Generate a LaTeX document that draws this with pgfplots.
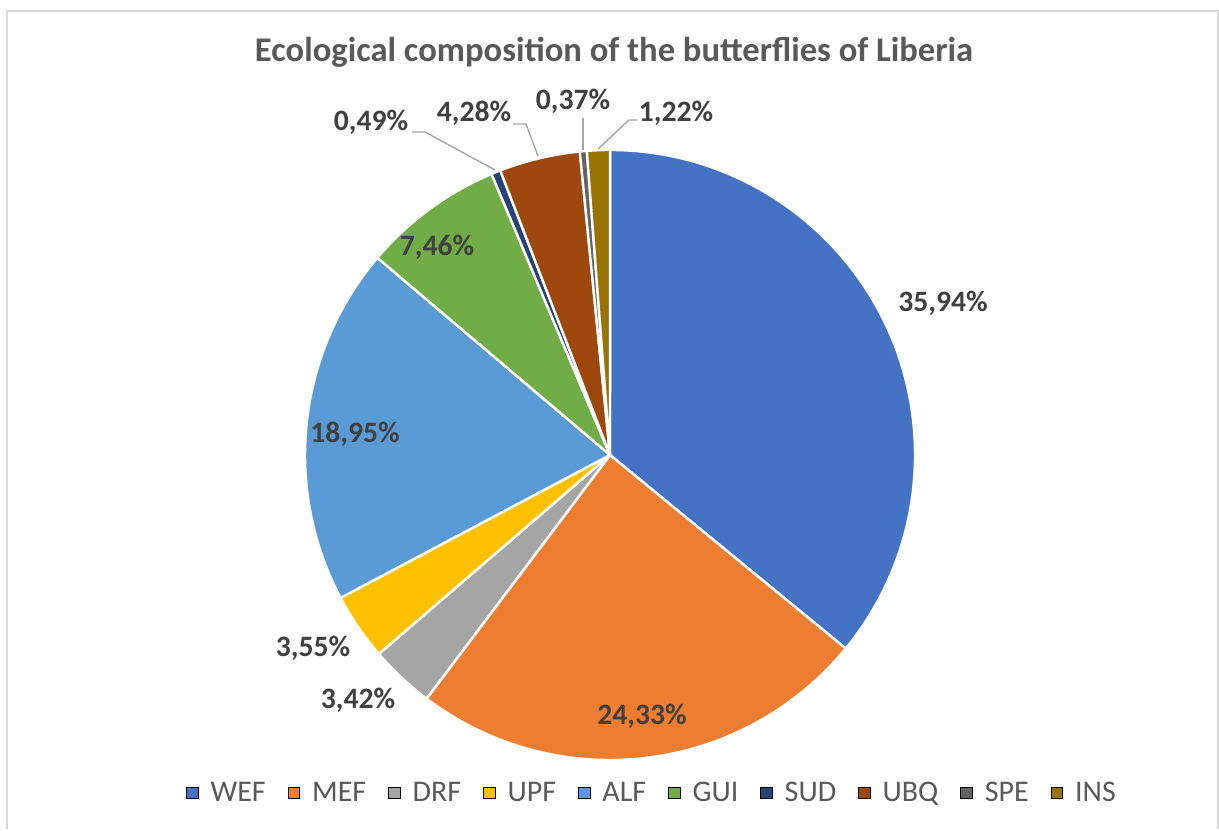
\documentclass[border=0pt]{standalone}
\usepackage{fontspec}
\setmainfont{Carlito}
\usepackage{pgfplots}
\usepackage{pgfplotstable}
\pgfplotsset{compat=1.18}

\definecolor{cWEF}{HTML}{4472C4}
\definecolor{cMEF}{HTML}{ED7D31}
\definecolor{cDRF}{HTML}{A5A5A5}
\definecolor{cUPF}{HTML}{FFC000}
\definecolor{cALF}{HTML}{5B9BD5}
\definecolor{cGUI}{HTML}{70AD47}
\definecolor{cSUD}{HTML}{264478}
\definecolor{cUBQ}{HTML}{9E480E}
\definecolor{cSPE}{HTML}{636363}
\definecolor{cINS}{HTML}{997300}
\definecolor{lblgray}{HTML}{404040}
\definecolor{txtgray}{HTML}{595959}
\definecolor{leadgray}{HTML}{A6A6A6}
\definecolor{framegray}{HTML}{D9D9D9}

% share (%), colour, label position (px from left / top)
\pgfplotstableread{
name value col lx ly
WEF 35.94 cWEF 943 303
MEF 24.33 cMEF 642 716
DRF 3.42 cDRF 358 700
UPF 3.55 cUPF 313 648
ALF 18.95 cALF 355 434
GUI 7.46 cGUI 437 247
SUD 0.49 cSUD 371 122
UBQ 4.28 cUBQ 474 113
SPE 0.37 cSPE 573 101
INS 1.22 cINS 676 113
}\piedata

% start/end angles, clockwise from 12 o'clock
\def\pieCum{0}
\pgfplotsforeachungrouped \i in {0,...,9}{%
  \pgfplotstablegetelem{\i}{value}\of\piedata \let\pieV\pgfplotsretval
  \pgfmathsetmacro\pieA{90-3.6*\pieCum}%
  \pgfmathsetmacro\pieCum{\pieCum+\pieV}%
  \pgfmathsetmacro\pieB{90-3.6*\pieCum}%
  \expandafter\xdef\csname sa\i\endcsname{\pieA}%
  \expandafter\xdef\csname sb\i\endcsname{\pieB}%
  \expandafter\xdef\csname sv\i\endcsname{\pieV}%
  \pgfplotstablegetelem{\i}{col}\of\piedata
  \expandafter\xdef\csname sc\i\endcsname{\pgfplotsretval}%
  \pgfplotstablegetelem{\i}{name}\of\piedata
  \expandafter\xdef\csname sn\i\endcsname{\pgfplotsretval}%
  \pgfplotstablegetelem{\i}{lx}\of\piedata
  \expandafter\xdef\csname lx\i\endcsname{\pgfplotsretval}%
  \pgfplotstablegetelem{\i}{ly}\of\piedata
  \pgfmathsetmacro\pieY{829-\pgfplotsretval}%
  \expandafter\xdef\csname ly\i\endcsname{\pieY}%
}

\begin{document}
\begin{tikzpicture}[
  lbl/.style={font=\bfseries\fontsize{14.8}{17}\selectfont, text=lblgray, inner sep=0pt, anchor=center},
  lead/.style={draw=leadgray, line width=0.7pt}]
\begin{axis}[
    hide axis, scale only axis, clip=false,
    width=609.5pt, height=414.5pt,
    xmin=0, xmax=1219, ymin=0, ymax=829,
    legend columns=10,
    legend image code/.code={\fill[#1] (0pt,-2.9pt) rectangle (5.8pt,2.9pt);},
    legend style={at={(axis cs:651,36)}, anchor=center, draw=none, fill=none,
      font=\fontsize{15}{18}\selectfont, text=txtgray,
      nodes={inner sep=0pt},
      /tikz/every odd column/.append style={column sep=6pt},
      /tikz/every even column/.append style={column sep=11pt}}]
  \path (axis cs:0,0) rectangle (axis cs:1219,829);
  \draw[framegray, line width=1pt] (axis cs:7,0) -- (axis cs:7,818) -- (axis cs:1218,818) -- (axis cs:1218,0);

  \node[font=\bfseries\fontsize{17.3}{20}\selectfont, text=txtgray] at (axis cs:614,777)
    {Ecological composition of the butterflies of Liberia};

  \pgfplotsforeachungrouped \i in {0,...,9}{%
    \edef\tmp{\noexpand\filldraw[fill=\csname sc\i\endcsname, draw=white, line width=1.2pt, line join=round]
      (axis cs:610,374) -- ++(\csname sa\i\endcsname:152.5pt)
      arc[start angle=\csname sa\i\endcsname, end angle=\csname sb\i\endcsname, radius=152.5pt] -- cycle;}\tmp
  }

  % leader lines for the small slices
  \draw[lead] (axis cs:412,697) -- (axis cs:425,697) -- (axis cs:495,659);
  \draw[lead] (axis cs:513,705) -- (axis cs:526,705) -- (axis cs:538,673);
  \draw[lead] (axis cs:583,711) -- (axis cs:583,679);
  \draw[lead] (axis cs:637,709) -- (axis cs:629,709) -- (axis cs:598,680);

  \pgfplotsforeachungrouped \i in {0,...,9}{%
    \edef\tmp{\noexpand\node[lbl] at (axis cs:\csname lx\i\endcsname,\csname ly\i\endcsname)
      {\noexpand\pgfmathprintnumber[fixed,precision=2,fixed zerofill,use comma,assume math mode=true]{\csname sv\i\endcsname}\noexpand\%};}\tmp
  }

  \pgfplotsforeachungrouped \i in {0,...,9}{%
    \edef\tmp{\noexpand\addlegendimage{fill=\csname sc\i\endcsname}\noexpand\addlegendentry{\csname sn\i\endcsname}}\tmp
  }
\end{axis}
\end{tikzpicture}
\end{document}
